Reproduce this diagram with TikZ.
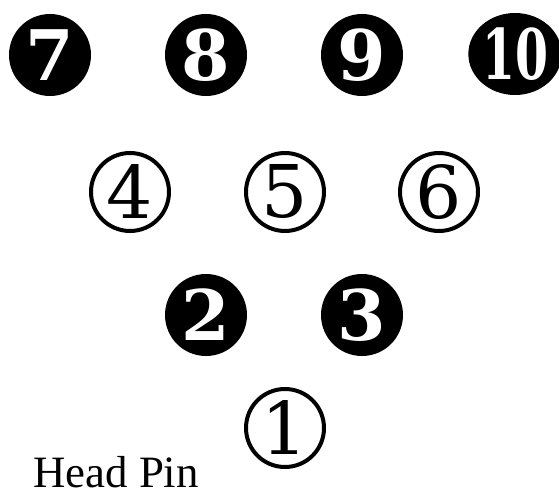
\documentclass[tikz,border=0pt]{standalone}
\usepackage{fontspec}
\setmainfont{Liberation Serif}
\newfontfamily\pinfont{DejaVu Serif}
\newfontfamily\pinfontb{DejaVu Serif Bold}
\usetikzlibrary{shapes.geometric}
\tikzset{
  blackpin/.style={circle, fill=black, text=white, minimum size=82bp, inner sep=0pt,
    font=\pinfontb\fontsize{70}{70}\selectfont},
  whitepin/.style={circle, draw=black, line width=4bp, fill=white, text=black, minimum size=78bp, inner sep=0pt,
    font=\pinfont\fontsize{73}{73}\selectfont},
  label/.style={font=\fontsize{45}{45}\selectfont, inner sep=0pt}
}
\begin{document}
\begin{tikzpicture}[x=1bp,y=-1bp]
\useasboundingbox (0,0) rectangle (559,491);
\node[blackpin] (p7) at (50,55) {7};
\node[blackpin] (p8) at (206,55) {8};
\node[blackpin] (p9) at (362,55) {9};
\node[blackpin, ellipse, minimum width=75bp, minimum height=82bp] (p10) at (515,54) {\scalebox{0.68}[1]{10}};
\node[whitepin] (p4) at (130,192) {4};
\node[whitepin] (p5) at (285,192) {5};
\node[whitepin] (p6) at (439,192) {6};
\node[blackpin] (p2) at (206,315) {2};
\node[blackpin] (p3) at (362,315) {3};
\node[whitepin] (p1) at (285,428) {1};
\node[label, anchor=base west] (hp) at (33,487) {Head Pin};
\end{tikzpicture}
\end{document}
